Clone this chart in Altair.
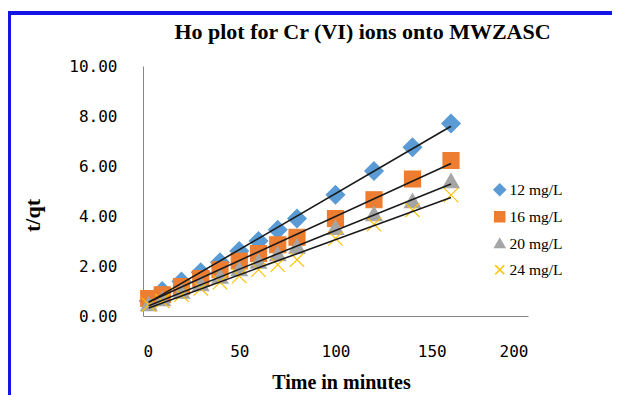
import altair as alt
import pandas as pd

# ---- data ----
time_min = [3, 10, 20, 30, 40, 50, 60, 70, 80, 100, 120, 140, 160]
c12 = [0.60, 1.00, 1.38, 1.75, 2.15, 2.60, 3.00, 3.45, 3.90, 4.85, 5.80, 6.75, 7.70]
c16 = [0.70, 0.85, 1.18, 1.50, 1.85, 2.20, 2.50, 2.85, 3.15, 3.90, 4.65, 5.48, 6.22]
c20 = [0.45, 0.65, 0.95, 1.25, 1.55, 1.85, 2.15, 2.45, 2.75, 3.50, 4.05, 4.57, 5.37]
c24 = [0.45, 0.60, 0.85, 1.10, 1.35, 1.60, 1.85, 2.05, 2.25, 3.10, 3.67, 4.24, 4.84]
series_names = ["12 mg/L", "16 mg/L", "20 mg/L", "24 mg/L"]
colors = ["#5B9BD5", "#ED7D31", "#A5A5A5", "#FFC000"]
shapes = [
    "M0,-1.15L1.15,0L0,1.15L-1.15,0Z",
    "M-1,-1H1V1H-1Z",
    "M0,-1L1,0.75L-1,0.75Z",
    "M-0.9,-0.9L0.9,0.9M-0.9,0.9L0.9,-0.9",
]
x_ticks = [0, 50, 100, 150, 200]
y_ticks = [0, 2, 4, 6, 8, 10]

rows = []
for name, vals in zip(series_names, [c12, c16, c20, c24]):
    for t, v in zip(time_min, vals):
        rows.append({"t": t, "v": v, "series": name})
df = pd.DataFrame(rows)

W, H = 385, 250

x_enc = alt.X("t:Q", scale=alt.Scale(domain=[0, 200], nice=False),
              axis=alt.Axis(values=x_ticks, title="Time in minutes", labelPadding=35,
                            labelBaseline="middle", titleX=198, titleY=66,
                            titleBaseline="middle", titleFontSize=20))
y_enc = alt.Y("v:Q", scale=alt.Scale(domain=[0, 10], nice=False),
              axis=alt.Axis(values=y_ticks, format=".2f", title="t/qt", labelPadding=26,
                            titleX=-111, titleY=149, titleAlign="center",
                            titleBaseline="middle", titleAngle=-90))

color_scale = alt.Scale(domain=series_names, range=colors)
shape_scale = alt.Scale(domain=series_names, range=shapes)
leg = alt.Legend(orient="none", legendX=349, legendY=116, title=None,
                 labelFont="Liberation Serif", labelFontSize=15.5, labelColor="#000000",
                 symbolSize=100, symbolStrokeWidth=1.5, rowPadding=9, labelOffset=2)

points = alt.Chart(df).mark_point(filled=True, size=256, strokeWidth=1.2, opacity=1).encode(
    x=x_enc,
    y=y_enc,
    color=alt.Color("series:N", scale=color_scale, legend=leg, sort=series_names),
    stroke=alt.Stroke("series:N", scale=color_scale, legend=leg, sort=series_names),
    shape=alt.Shape("series:N", scale=shape_scale, legend=leg, sort=series_names),
)

lines = alt.Chart(df).transform_regression(
    "t", "v", groupby=["series"], extent=[3, 160]
).mark_line(color="#1a1a1a", strokeWidth=1.6).encode(
    x="t:Q", y="v:Q", detail="series:N"
)

frame_df = pd.DataFrame({"k": [0]})
frame_left = alt.Chart(frame_df).mark_rule(color="#1414E6", strokeWidth=4, strokeCap="square").encode(
    x=alt.value(-134), y=alt.value(-53), y2=alt.value(400))
frame_top = alt.Chart(frame_df).mark_rule(color="#1414E6", strokeWidth=4, strokeCap="square").encode(
    x=alt.value(-134), x2=alt.value(500), y=alt.value(-53))

chart = alt.layer(points, lines, frame_left, frame_top).properties(
    width=W, height=H,
    title=alt.TitleParams("Ho plot for Cr (VI) ions onto MWZASC", font="Liberation Serif",
                          fontSize=22, fontWeight="bold", anchor="middle", frame="group",
                          offset=0, baseline="bottom", dx=27, dy=56, color="#000000"),
    autosize=alt.AutoSizeParams(type="none"),
    padding={"left": 135, "top": 58, "right": 84, "bottom": 79},
).configure_view(stroke=None).configure_axis(
    grid=False, ticks=False, tickSize=0, domainColor="#868686", domainWidth=1,
    labelFont="DejaVu Sans Mono", labelFontSize=16, labelColor="#000000",
    titleFont="Liberation Serif", titleFontSize=22, titleFontWeight="bold", titleColor="#000000",
)

chart.save("out.html", embed_options={"renderer": "svg", "actions": False})
